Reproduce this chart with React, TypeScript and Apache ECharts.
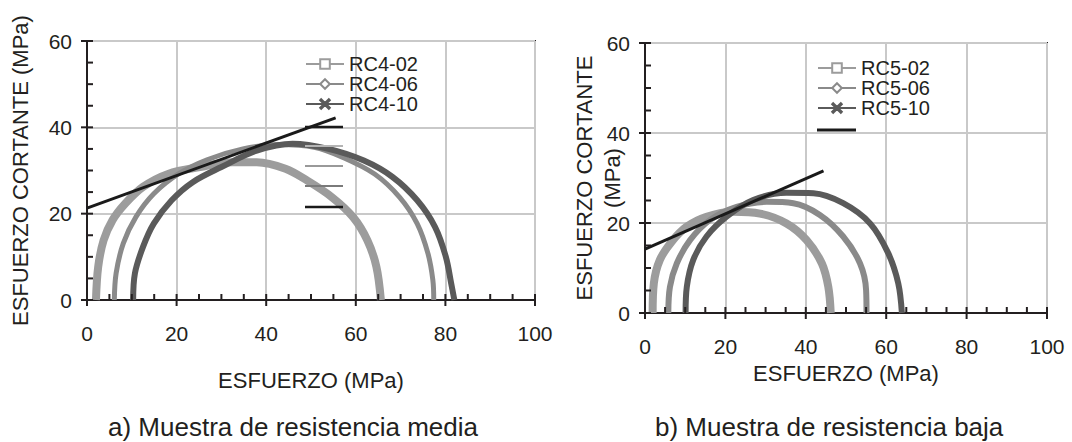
import React, { useEffect, useRef } from "react";
import * as echarts from "echarts";

// ---------- data ----------
const xTickValues = [0, 20, 40, 60, 80, 100];
const yTickValues = [0, 20, 40, 60];
const xMinorTicks = [0, 5, 10, 15, 20, 25, 30, 35, 40, 45, 50, 55, 60, 65, 70, 75, 80, 85, 90, 95, 100];
const yMinorTicks = [0, 5, 10, 15, 20, 25, 30, 35, 40, 45, 50, 55, 60];

const namesA = ["RC4-02", "RC4-06", "RC4-10"];
const namesB = ["RC5-02", "RC5-06", "RC5-10"];

const rc4_02: number[][] = [
  [2.0, 0], [2.5, 7.7], [3.7, 13.8], [5.7, 18.5], [8.5, 22.3], [12.5, 26.2], [18.1, 29.2],
  [25.2, 30.8], [32.4, 31.9], [37.9, 31.9], [44.3, 30.4], [49.1, 27.7], [54.7, 23.8],
  [59.4, 19.2], [62.6, 13.8], [64.6, 7.7], [65.6, 0],
];
const rc4_06: number[][] = [
  [6.1, 0], [6.5, 6.2], [8.1, 13.1], [10.9, 19.2], [14.9, 24.6], [20.4, 29.2], [26.8, 32.5],
  [34.8, 35.0], [42.7, 36.0], [50.7, 35.4], [57.0, 33.1], [64.2, 29.2], [69.8, 23.8],
  [73.7, 17.7], [76.1, 10.8], [77.2, 4.6], [77.4, 0],
];
const rc4_10: number[][] = [
  [10.3, 0], [10.7, 6.2], [12.5, 12.3], [14.9, 17.7], [18.9, 23.1], [23.6, 27.3], [30.0, 30.8],
  [37.9, 34.6], [45.9, 36.2], [53.9, 35.0], [61.8, 32.3], [68.2, 28.5], [73.7, 23.1],
  [77.7, 16.9], [80.1, 10.0], [81.3, 3.8], [82.0, 0],
];
const envelopeA: number[][] = [[0, 21.3], [55.5, 42.2]];

const rc5_02: number[][] = [
  [1.9, 0], [2.2, 6.6], [3.7, 11.8], [6.6, 15.8], [10.4, 19.2], [15.3, 21.4], [22.0, 22.5],
  [28.6, 22.1], [35.2, 19.9], [40.2, 16.2], [44.0, 11.0], [45.6, 5.8], [46.2, 0],
];
const rc5_06: number[][] = [
  [5.8, 0], [6.2, 5.8], [7.9, 11.0], [11.2, 16.2], [16.2, 20.7], [22.8, 23.6], [30.3, 24.7],
  [36.9, 24.4], [43.5, 21.8], [49.3, 17.0], [53.5, 11.0], [55.0, 5.1], [55.1, 0],
];
const rc5_10: number[][] = [
  [10.1, 0], [10.4, 5.8], [12.0, 11.8], [15.3, 17.0], [20.3, 21.4], [26.9, 25.1], [35.2, 26.7],
  [41.9, 26.6], [49.3, 24.4], [56.0, 19.9], [60.5, 13.3], [63.0, 6.6], [63.9, 0],
];
const envelopeB: number[][] = [[0, 14.2], [44.4, 31.6]];

const titleA = "a) Muestra de resistencia media";
const titleB = "b) Muestra de resistencia baja";
const xName = "ESFUERZO (MPa)";
const yNameA = "ESFUERZO CORTANTE (MPa)";
const yNameB = "ESFUERZO CORTANTE\n(MPa)";

// ---------- styling ----------
const FONT = "Liberation Sans, Arial, sans-serif";
const TXT = "#231f20";
const AX = "#231f20";
const GRIDC = "#c9c9c9";
const C1 = "#9c9c9c";
const C2 = "#8a8a8a";
const C3 = "#5a5a5a";
const ENV = "#1a1a1a";
const XSYM = "path://M1,0 L5,4 L9,0 L10,1 L6,5 L10,9 L9,10 L5,6 L1,10 L0,9 L4,5 L0,1Z";
const TICK_IN = 6;
const TICK_OUT = 6;

function mainX(gridIndex: number, nameGap: number) {
  return {
    type: "value", gridIndex, position: "bottom",
    min: xTickValues[0], max: xTickValues[xTickValues.length - 1], interval: 20,
    name: xName, nameLocation: "middle", nameGap, nameMoveOverlap: false,
    nameTextStyle: { fontSize: 22, color: TXT, fontFamily: FONT },
    axisLine: { show: true, onZero: false, lineStyle: { color: AX, width: 2 } },
    axisTick: { show: false },
    axisLabel: { fontSize: 21, color: TXT, fontFamily: FONT, margin: 23 },
    splitLine: { show: true, lineStyle: { color: GRIDC, width: 2 } },
  };
}
function mainY(gridIndex: number, name: string, nameGap: number) {
  return {
    type: "value", gridIndex, position: "left",
    min: yTickValues[0], max: yTickValues[yTickValues.length - 1], interval: 20,
    name, nameLocation: "middle", nameGap, nameRotate: 90, nameMoveOverlap: false,
    nameTextStyle: { fontSize: 22, color: TXT, fontFamily: FONT, lineHeight: 28 },
    axisLine: { show: true, onZero: false, lineStyle: { color: AX, width: 2 } },
    axisTick: { show: false },
    axisLabel: { fontSize: 21, color: TXT, fontFamily: FONT, margin: 15 },
    splitLine: { show: true, lineStyle: { color: GRIDC, width: 2 } },
  };
}

function circle(name: string, data: number[][], color: string, width: number, symbol: string, xi: number, yi: number) {
  return {
    type: "line", name, data, xAxisIndex: xi, yAxisIndex: yi,
    smooth: 0.35, symbol, symbolSize: 9, showSymbol: false,
    lineStyle: { color, width },
    itemStyle: { color, borderColor: color, borderWidth: 1.5 },
    emphasis: { disabled: true },
  };
}

function envelope(name: string, data: number[][], xi: number, yi: number) {
  return {
    type: "line", name, data, xAxisIndex: xi, yAxisIndex: yi, symbol: "none",
    lineStyle: { color: ENV, width: 3 }, z: 5, emphasis: { disabled: true },
  };
}

function legendBox(data: string[], left: number, top: number) {
  return {
    data, orient: "vertical", left, top, padding: 0,
    itemWidth: 38, itemHeight: 12, itemGap: 0,
    lineStyle: { width: 2 },
    textStyle: { fontSize: 20, lineHeight: 20, color: TXT, fontFamily: FONT },
    selectedMode: false,
  };
}

function seg(x1: number, y1: number, x2: number, y2: number, color: string, w: number) {
  return { type: "line", z: 100, shape: { x1, y1, x2, y2 }, style: { stroke: color, lineWidth: w } };
}

export default function App() {
  const ref = useRef<HTMLDivElement>(null);
  useEffect(() => {
    if (!ref.current) return;
    const chart = echarts.init(ref.current, null, { renderer: "svg" });
    chart.setOption({
      animation: false,
      backgroundColor: "#ffffff",
      textStyle: { fontFamily: FONT },
      title: [
        { text: titleA, left: 108, top: 414, padding: 0, textStyle: { fontSize: 26, fontWeight: "normal", color: TXT, fontFamily: FONT } },
        { text: titleB, left: 655, top: 414, padding: 0, textStyle: { fontSize: 26, fontWeight: "normal", color: TXT, fontFamily: FONT } },
      ],
      grid: [
        { left: 87, top: 41, width: 448, height: 259, show: true, borderColor: AX, borderWidth: 2, backgroundColor: "transparent" },
        { left: 645, top: 43, width: 402, height: 270, show: true, borderColor: AX, borderWidth: 2, backgroundColor: "transparent" },
      ],
      xAxis: [mainX(0, 69), mainX(1, 49)],
      yAxis: [mainY(0, yNameA, 53), mainY(1, yNameB, 19)],
      legend: [legendBox(namesA, 305, 54), legendBox(namesB, 817, 58)],
      series: [
        circle(namesA[0], rc4_02, C1, 8, "emptyRect", 0, 0),
        circle(namesA[1], rc4_06, C2, 5, "emptyDiamond", 0, 0),
        circle(namesA[2], rc4_10, C3, 6, XSYM, 0, 0),
        envelope("envA", envelopeA, 0, 0),
        circle(namesB[0], rc5_02, C1, 8, "emptyRect", 1, 1),
        circle(namesB[1], rc5_06, C2, 6, "emptyDiamond", 1, 1),
        circle(namesB[2], rc5_10, C3, 6, XSYM, 1, 1),
        envelope("envB", envelopeB, 1, 1),
      ],
    });

    // axis ticks: minor ticks inside every 5, major ticks outside at the labelled values
    const ticks: any[] = [];
    [0, 1].forEach((gi) => {
      const x0 = chart.convertToPixel({ xAxisIndex: gi }, 0) as number;
      const y0 = chart.convertToPixel({ yAxisIndex: gi }, 0) as number;
      xMinorTicks.forEach((v) => {
        const px = chart.convertToPixel({ xAxisIndex: gi }, v) as number;
        ticks.push(seg(px, y0, px, y0 - TICK_IN, AX, 2));
      });
      xTickValues.forEach((v) => {
        const px = chart.convertToPixel({ xAxisIndex: gi }, v) as number;
        ticks.push(seg(px, y0, px, y0 + TICK_OUT, AX, 2));
      });
      yMinorTicks.forEach((v) => {
        const py = chart.convertToPixel({ yAxisIndex: gi }, v) as number;
        ticks.push(seg(x0, py, x0 + TICK_IN, py, AX, 2));
      });
      yTickValues.forEach((v) => {
        const py = chart.convertToPixel({ yAxisIndex: gi }, v) as number;
        ticks.push(seg(x0 - TICK_OUT, py, x0, py, AX, 2));
      });
    });

    chart.setOption({
      graphic: [
        seg(305, 127, 343, 127, ENV, 2.5),
        seg(305, 146, 343, 146, "#b4b4b4", 2),
        seg(305, 166, 343, 166, "#999999", 2),
        seg(305, 186, 343, 186, "#7a7a7a", 2),
        seg(305, 207, 343, 207, ENV, 2.5),
        seg(817, 130, 856, 130, ENV, 3),
        ...ticks,
      ],
    });
    return () => chart.dispose();
  }, []);
  return <div ref={ref} style={{ position: "fixed", left: 0, top: 0, width: 1072, height: 442, background: "#fff" }} />;
}
